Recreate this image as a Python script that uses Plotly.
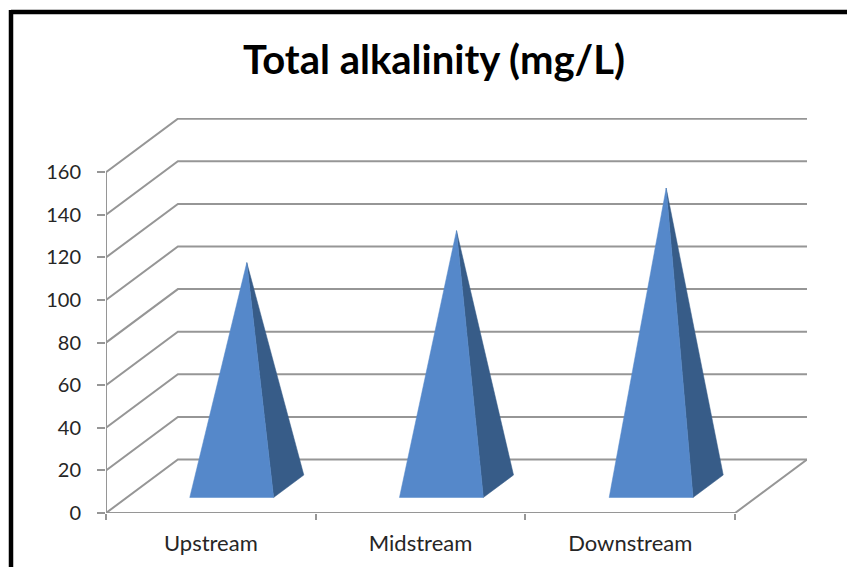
import plotly.graph_objects as go

categories = ["Upstream", "Midstream", "Downstream"]
alkalinity = [105, 120, 140]
y_ticks = [0, 20, 40, 60, 80, 100, 120, 140, 160]
title_text = "Total alkalinity (mg/L)"

W, H = 847, 567
L, R, T, B = 106, 807, 118, 513
PX_PER_CAT = 210.0
PX_PER_UNIT = 2.13
DEPTH_X = 72 / PX_PER_CAT      # wall offset, in category units
DEPTH_Y = 53.5 / PX_PER_UNIT   # wall offset, in value units
X_MIN, X_MAX = -0.5, 2.5
GRID = "#969696"
FRONT = "#5588CA"
SIDE = "#375C88"
HALF_W = 0.2
D_NEAR, D_FAR = 0.29, 0.71


def proj(x, y, d):
    """Project category x, value y at depth d (0 front, 1 back) on to the 2D axes."""
    return x + d * DEPTH_X, y + d * DEPTH_Y


def line(xs, ys, width=2):
    return go.Scatter(x=xs, y=ys, mode="lines", line=dict(color=GRID, width=width),
                      hoverinfo="skip", showlegend=False, cliponaxis=False)


fig = go.Figure()

# gridlines across side wall and back wall
for v in y_ticks:
    a = proj(X_MIN, v, 0)
    b = proj(X_MIN, v, 1)
    c = proj(X_MAX, v, 1)
    fig.add_trace(line([a[0], b[0], c[0]], [a[1], b[1], c[1]]))

# floor front edge, floor right edge, vertical axis
a = proj(X_MIN, 0, 0)
b = proj(X_MAX, 0, 0)
c = proj(X_MAX, 0, 1)
fig.add_trace(line([a[0], b[0], c[0]], [a[1], b[1], c[1]]))
fig.add_trace(line([X_MIN, X_MIN], [0, y_ticks[-1]]))

# pyramids
for i, v in enumerate(alkalinity):
    fl = proj(i - HALF_W, 0, D_NEAR)
    fr = proj(i + HALF_W, 0, D_NEAR)
    br = proj(i + HALF_W, 0, D_FAR)
    apex = proj(i, v, 0.5)
    fig.add_trace(go.Scatter(
        x=[fr[0], br[0], apex[0], fr[0]], y=[fr[1], br[1], apex[1], fr[1]],
        mode="lines", fill="toself", fillcolor=SIDE, line=dict(color=SIDE, width=0.5),
        hoverinfo="skip", showlegend=False, cliponaxis=False))
    fig.add_trace(go.Scatter(
        x=[fl[0], fr[0], apex[0], fl[0]], y=[fl[1], fr[1], apex[1], fl[1]],
        mode="lines", fill="toself", fillcolor=FRONT, line=dict(color=FRONT, width=0.5),
        hoverinfo="x+y", showlegend=False, cliponaxis=False))

font = dict(family="Lato, Carlito, sans-serif", color="#262626", size=20)
xfont = dict(family="Lato, Carlito, sans-serif", color="#262626", size=22)

fig.update_layout(
    width=W, height=H, autosize=False,
    margin=dict(l=L, r=W - R, t=T, b=H - B, pad=0),
    paper_bgcolor="white", plot_bgcolor="white",
    showlegend=False, font=font,
    title=dict(text="<b>%s</b>" % title_text, x=434 / W, xanchor="center",
               y=1 - 60 / H, yanchor="middle",
               font=dict(family="Lato, Carlito, sans-serif", size=40, color="black")),
    xaxis=dict(
        range=[X_MIN, X_MAX + DEPTH_X], showgrid=False, zeroline=False, showline=False,
        tickmode="array", tickvals=[0, 1, 2], ticktext=categories, ticks="",
        ticklabelstandoff=15, tickfont=xfont,
        minor=dict(tickmode="array", tickvals=[-0.5, 0.5, 1.5, 2.5], ticks="outside",
                   ticklen=6, tickwidth=2, tickcolor=GRID, showgrid=False),
    ),
    yaxis=dict(
        range=[0, (B - T) / PX_PER_UNIT], showgrid=False, zeroline=False, showline=False,
        tickmode="array", tickvals=y_ticks, ticks="outside", ticklen=8, tickwidth=2,
        tickcolor=GRID, ticklabelstandoff=12, tickfont=font,
    ),
    shapes=[
        dict(type="line", xref="paper", yref="paper", line=dict(color="black", width=4.5),
             x0=(11 - L) / (R - L), x1=(W + 5 - L) / (R - L),
             y0=(B - 12) / (B - T), y1=(B - 12) / (B - T)),
        dict(type="line", xref="paper", yref="paper", line=dict(color="black", width=4.5),
             x0=(11 - L) / (R - L), x1=(11 - L) / (R - L),
             y0=(B - 10) / (B - T), y1=(B - H - 5) / (B - T)),
    ],
)

fig.write_html(
    "out.html",
    config={"displayModeBar": False},
    post_script="document.body.style.margin='0';document.body.style.overflow='hidden';",
)
